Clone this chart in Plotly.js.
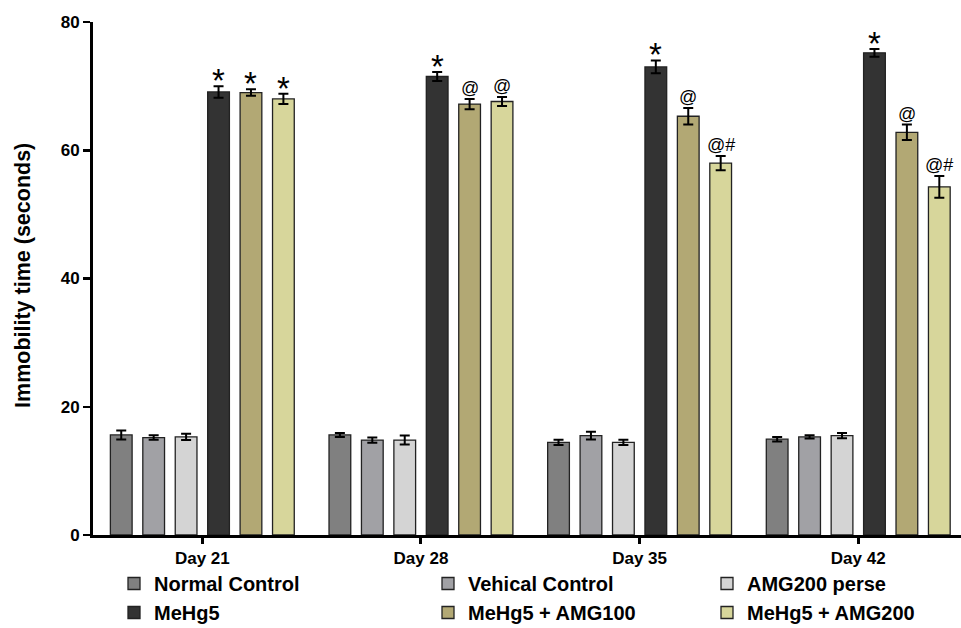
<!DOCTYPE html>
<html>
<head>
<meta charset="utf-8">
<script src="https://cdn.plot.ly/plotly-3.0.1.min.js"></script>
<style>html,body{margin:0;padding:0;background:#fff;}#chart{width:961px;height:628px;}</style>
</head>
<body>
<div id="chart"></div>
<script>
// ---- data ----
var days = ["Day 21", "Day 28", "Day 35", "Day 42"];
var groupNames = ["Normal Control", "Vehical Control", "AMG200 perse", "MeHg5", "MeHg5 + AMG100", "MeHg5 + AMG200"];
var normalControl = [15.6, 15.6, 14.45, 14.95];
var vehicalControl = [15.2, 14.8, 15.5, 15.3];
var amg200Perse = [15.3, 14.8, 14.45, 15.5];
var mehg5 = [69.1, 71.5, 73.0, 75.2];
var mehg5Amg100 = [69.0, 67.2, 65.3, 62.8];
var mehg5Amg200 = [68.0, 67.6, 58.0, 54.3];
var errNormal = [0.7, 0.3, 0.4, 0.35];
var errVehical = [0.35, 0.4, 0.6, 0.25];
var errAmg200Perse = [0.5, 0.7, 0.4, 0.4];
var errMehg5 = [0.9, 0.7, 1.0, 0.6];
var errMehg5Amg100 = [0.5, 0.8, 1.3, 1.2];
var errMehg5Amg200 = [0.8, 0.7, 1.1, 1.7];
var sigMehg5 = ["*", "*", "*", "*"];
var sigMehg5Amg100 = ["*", "@", "@", "@"];
var sigMehg5Amg200 = ["*", "@", "@#", "@#"];
var yTitle = "Immobility time (seconds)";

// ---- styles ----
var values = [normalControl, vehicalControl, amg200Perse, mehg5, mehg5Amg100, mehg5Amg200];
var errs = [errNormal, errVehical, errAmg200Perse, errMehg5, errMehg5Amg100, errMehg5Amg200];
var sigs = [null, null, null, sigMehg5, sigMehg5Amg100, sigMehg5Amg200];
var colors = ["#808080", "#a1a1a5", "#d4d4d4", "#333333", "#b2a874", "#d7d69b"];
var legendIds = ["legend", "legend2", "legend3", "legend", "legend2", "legend3"];
var FONT = "Liberation Sans, Arial, sans-serif";
var bargap = 0.11;
var nG = groupNames.length;

var traces = [];
for (var j = 0; j < nG; j++) {
  traces.push({
    type: "bar",
    name: groupNames[j],
    x: days,
    y: values[j],
    legend: legendIds[j],
    legendgroup: "g" + j,
    marker: {color: colors[j], line: {color: "#222222", width: 1.3}},
    error_y: {type: "data", array: errs[j], visible: true, color: "#000", thickness: 2, width: 5},
    hoverinfo: "skip"
  });
}

var annotations = [];
var slot = (1 - bargap) / nG;
for (var j = 0; j < nG; j++) {
  if (!sigs[j]) continue;
  for (var i = 0; i < days.length; i++) {
    var s = sigs[j][i];
    var isStar = s === "*";
    annotations.push({
      x: i - (1 - bargap) / 2 + (j + 0.5) * slot,
      y: values[j][i] + errs[j][i],
      xref: "x", yref: "y",
      text: s,
      showarrow: false,
      xanchor: "center",
      yanchor: "bottom",
      yshift: isStar ? -15 : -1,
      font: {family: FONT, size: isStar ? 33 : 18, color: "#000"}
    });
  }
}
// y-axis title drawn as rotated text left of the axis
annotations.push({
  xref: "paper", yref: "paper",
  x: (23 - 93) / 868, y: 0.505,
  xanchor: "center", yanchor: "middle",
  textangle: -90, showarrow: false,
  text: yTitle,
  font: {family: FONT, size: 21.5, color: "#000", weight: "bold"}
});

var legendBase = {
  orientation: "v",
  xref: "container", yref: "container",
  xanchor: "left", yanchor: "top",
  y: 1 - 564 / 628,
  bgcolor: "rgba(0,0,0,0)",
  font: {family: FONT, size: 20, color: "#000", weight: "bold"},
  tracegroupgap: 13,
  traceorder: "normal"
};
function leg(x) { var o = JSON.parse(JSON.stringify(legendBase)); o.x = x / 961; return o; }

var layout = {
  width: 961, height: 628,
  margin: {l: 93, r: 0, t: 22, b: 93, autoexpand: false},
  paper_bgcolor: "#fff", plot_bgcolor: "#fff",
  barmode: "group",
  bargap: bargap,
  bargroupgap: 0.33,
  showlegend: true,
  legend: leg(114),
  legend2: leg(428),
  legend3: leg(707),
  xaxis: {
    type: "category",
    range: [-0.5, 3.47],
    showline: true, linecolor: "#000", linewidth: 3,
    ticks: "outside", ticklen: 6, tickwidth: 3, tickcolor: "#000",
    showgrid: false, zeroline: false,
    tickfont: {family: FONT, size: 17, color: "#000", weight: "bold"}
  },
  yaxis: {
    range: [0, 80],
    tickvals: [0, 20, 40, 60, 80],
    showline: true, linecolor: "#000", linewidth: 3,
    ticks: "outside", ticklen: 7, tickwidth: 2.5, tickcolor: "#000",
    showgrid: false, zeroline: false,
    tickfont: {family: FONT, size: 17, color: "#000", weight: "bold"}
  },
  annotations: annotations
};

Plotly.newPlot("chart", traces, layout, {displayModeBar: false, staticPlot: true});
</script>
</body>
</html>
